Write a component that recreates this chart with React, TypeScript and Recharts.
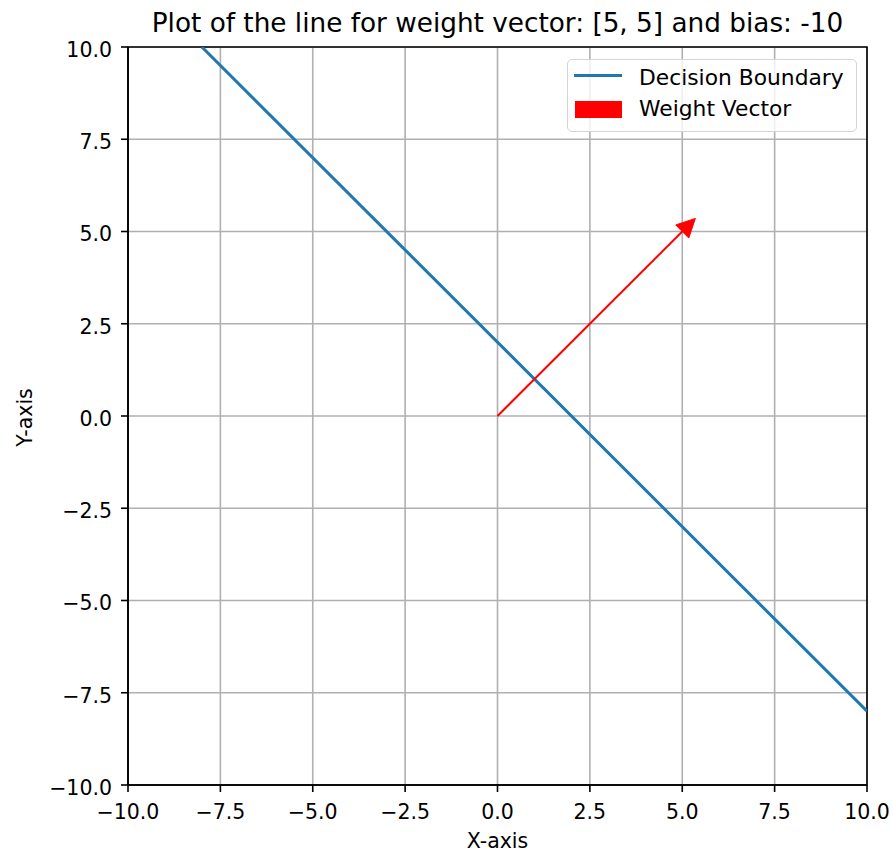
import React from 'react';
import { ComposedChart, Line, XAxis, YAxis, CartesianGrid, ReferenceArea } from 'recharts';

const ticks = [-10, -7.5, -5, -2.5, 0, 2.5, 5, 7.5, 10];

// decision boundary: 5x + 5y - 10 = 0, endpoints where it leaves the [-10, 10] box
const boundaryX = [-8, 10];
const boundaryY = [10, -8];

// weight vector shaft, then arrow head corners (tip, base left, base right)
const vectorX = [0, 5];
const vectorY = [0, 5];
const headX = [5.354, 4.823, 5.177];
const headY = [5.354, 5.177, 4.823];

const legendLabels = ['Decision Boundary', 'Weight Vector'];

const boundaryData = boundaryX.map((x, i) => ({ x, y: boundaryY[i] }));
const vectorData = vectorX.map((x, i) => ({ x, y: vectorY[i] }));

const FONT = '"DejaVu Sans", sans-serif';
const FS = 20.5;
const LEG_FS = 21.8;
const TITLE_FS = 26.3;
const BLUE = '#1f77b4';
const RED = '#ff0000';

const fmt = (v: number) => v.toFixed(1).replace('-', '\u2212');

const hx1 = Math.min(...headX);
const hx2 = Math.max(...headX);
const hy1 = Math.min(...headY);
const hy2 = Math.max(...headY);

function ArrowHead(props: any) {
  const { x, y, width, height } = props;
  const pts = headX
    .map((vx, i) => {
      const px = x + ((vx - hx1) / (hx2 - hx1)) * width;
      const py = y + ((hy2 - headY[i]) / (hy2 - hy1)) * height;
      return `${px},${py}`;
    })
    .join(' ');
  return <polygon points={pts} fill={RED} stroke={RED} strokeWidth={1} />;
}

const textAt = (baseline: number, left: number, size: number): React.CSSProperties => ({
  position: 'absolute',
  left,
  top: baseline - 0.846 * size,
  fontFamily: FONT,
  fontSize: size,
  lineHeight: 1,
  color: '#000',
  whiteSpace: 'nowrap',
});

function LegendBox() {
  return (
    <>
      <div
        style={{
          position: 'absolute',
          left: 567,
          top: 59,
          width: 290,
          height: 73,
          boxSizing: 'border-box',
          background: 'rgba(255,255,255,0.8)',
          border: '1.5px solid #d4d4d4',
          borderRadius: 5,
        }}
      />
      <div style={{ position: 'absolute', left: 574, top: 74, width: 48, height: 3, background: BLUE }} />
      <div style={{ position: 'absolute', left: 575, top: 101, width: 47, height: 17, background: RED }} />
      <div style={textAt(85, 639, LEG_FS)}>{legendLabels[0]}</div>
      <div style={textAt(116, 639, LEG_FS)}>{legendLabels[1]}</div>
    </>
  );
}

export default function App() {
  return (
    <div style={{ position: 'fixed', left: 0, top: 0, width: 893, height: 852, background: '#fff', overflow: 'hidden' }}>
      <ComposedChart
        width={893}
        height={852}
        margin={{ top: 47, right: 26, bottom: 0, left: 0 }}
        style={{ fontFamily: FONT }}
      >
        <CartesianGrid stroke="#b0b0b0" strokeWidth={1.6} />
        <XAxis
          type="number"
          dataKey="x"
          domain={[-10, 10]}
          ticks={ticks}
          allowDataOverflow
          tickFormatter={fmt}
          tickSize={7}
          tickMargin={12}
          stroke="#000"
          strokeWidth={1.6}
          tick={{ fill: '#000', fontSize: FS }}
          height={67}
          label={{
            content: () => (
              <text x={497.5} y={848.3} textAnchor="middle" fontSize={FS} fill="#000" fontFamily={FONT}>
                X-axis
              </text>
            ),
          }}
        />
        <YAxis
          type="number"
          dataKey="y"
          domain={[-10, 10]}
          ticks={ticks}
          allowDataOverflow
          tickFormatter={fmt}
          tickSize={7}
          tickMargin={9}
          stroke="#000"
          strokeWidth={1.6}
          width={128}
          tick={{ fill: '#000', fontSize: FS, dy: 2.5 }}
          label={{
            content: () => (
              <text
                x={32}
                y={417.5}
                transform="rotate(-90 32 417.5)"
                textAnchor="middle"
                fontSize={FS}
                fill="#000"
                fontFamily={FONT}
              >
                Y-axis
              </text>
            ),
          }}
        />
        <Line
          data={boundaryData}
          dataKey="y"
          stroke={BLUE}
          strokeWidth={3}
          dot={false}
          isAnimationActive={false}
        />
        <Line
          data={vectorData}
          dataKey="y"
          stroke={RED}
          strokeWidth={2}
          dot={false}
          isAnimationActive={false}
        />
        <ReferenceArea x1={hx1} x2={hx2} y1={hy1} y2={hy2} shape={ArrowHead} />
        <ReferenceArea x1={-10} x2={10} y1={-10} y2={10} fill="none" fillOpacity={0} stroke="#000" strokeWidth={1.6} />
      </ComposedChart>
      <div
        style={{
          ...textAt(32.3, 128, TITLE_FS),
          width: 739,
          textAlign: 'center',
        }}
      >
        Plot of the line for weight vector: [5, 5] and bias: -10
      </div>
      <LegendBox />
    </div>
  );
}
